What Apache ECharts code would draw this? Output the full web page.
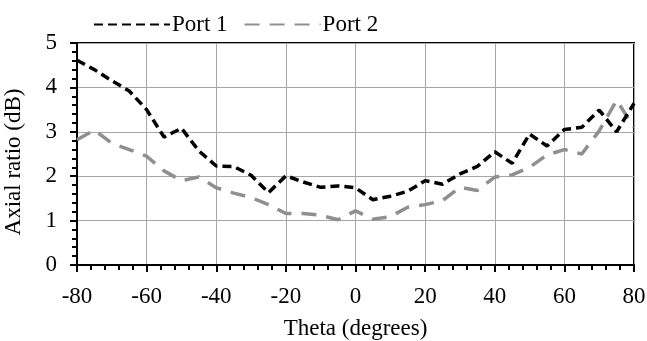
<!DOCTYPE html>
<html>
<head>
<meta charset="utf-8">
<script src="https://cdn.jsdelivr.net/npm/echarts@6/dist/echarts.min.js"></script>
<style>
  html, body { margin: 0; padding: 0; background: #fff; }
  #chart { width: 647px; height: 341px; }
</style>
</head>
<body>
<div id="chart"></div>
<script>
// theta in degrees, axial ratio in dB
var theta = [-80, -75, -70, -65, -60, -55, -50, -45, -40, -35, -30, -25, -20, -15, -10, -5, 0,
             5, 10, 15, 20, 25, 30, 35, 40, 45, 50, 55, 60, 65, 70, 75, 80];
var port1 = [4.61, 4.40, 4.15, 3.92, 3.50, 2.88, 3.08, 2.57, 2.23, 2.22, 2.02, 1.63, 2.01, 1.87, 1.75, 1.78, 1.74,
             1.47, 1.55, 1.66, 1.90, 1.82, 2.05, 2.22, 2.55, 2.29, 2.95, 2.68, 3.05, 3.10, 3.49, 3.00, 3.64];
var port2 = [2.82, 3.04, 2.74, 2.60, 2.45, 2.12, 1.90, 1.98, 1.74, 1.62, 1.52, 1.36, 1.16, 1.16, 1.12, 1.02, 1.22,
             1.03, 1.09, 1.30, 1.36, 1.45, 1.75, 1.68, 1.98, 2.03, 2.20, 2.48, 2.60, 2.50, 3.02, 3.71, 3.10];

function pairs(ys) {
    return theta.map(function(t, i) { return [t, ys[i]]; });
}

var font = 'Liberation Serif';
var myChart = echarts.init(document.getElementById('chart'));

var option = {
    animation: false,
    textStyle: { fontFamily: font },
    legend: {
        top: 8,
        left: 88,
        itemWidth: 76,
        itemHeight: 14,
        itemGap: 16,
        itemStyle: { opacity: 0 },
        textStyle: { fontFamily: font, fontSize: 23, color: '#000', padding: [0, 0, 0, -3] },
        data: ['Port 1', 'Port 2']
    },
    grid: {
        left: 77,
        right: 13,
        top: 43,
        bottom: 76,
        outerBoundsMode: 'none',
        show: true,
        borderColor: '#000',
        borderWidth: 2
    },
    xAxis: {
        type: 'value',
        min: -80,
        max: 80,
        interval: 20,
        name: 'Theta (degrees)',
        nameLocation: 'middle',
        nameGap: 52,
        nameTextStyle: { fontFamily: font, fontSize: 23, color: '#000' },
        axisLine: { onZero: false, lineStyle: { color: '#000', width: 2 } },
        axisTick: { show: true, length: 7, lineStyle: { color: '#000', width: 2 } },
        minorTick: { show: true, splitNumber: 5, length: 5, lineStyle: { color: '#000', width: 2 } },
        axisLabel: { fontFamily: font, fontSize: 23, color: '#000', margin: 20 },
        splitLine: { show: true, lineStyle: { color: '#a6a6a6', width: 1 } }
    },
    yAxis: {
        type: 'value',
        min: 0,
        max: 5,
        interval: 1,
        name: 'Axial ratio (dB)',
        nameLocation: 'middle',
        nameGap: 52,
        nameTextStyle: { fontFamily: font, fontSize: 23, color: '#000', padding: [0, 16, 0, 0] },
        axisLine: { show: true, onZero: false, lineStyle: { color: '#000', width: 2 } },
        axisTick: { show: true, length: 7, lineStyle: { color: '#000', width: 2 } },
        minorTick: { show: true, splitNumber: 5, length: 5, lineStyle: { color: '#000', width: 2 } },
        axisLabel: { fontFamily: font, fontSize: 23, color: '#000', margin: 20 },
        splitLine: { show: true, lineStyle: { color: '#a6a6a6', width: 1 } }
    },
    series: [
        {
            name: 'Port 1',
            type: 'line',
            showSymbol: false,
            symbol: 'none',
            data: pairs(port1),
            lineStyle: { color: '#000', width: 3.5, type: [9, 5] },
            itemStyle: { color: '#000' },
            z: 3
        },
        {
            name: 'Port 2',
            type: 'line',
            showSymbol: false,
            symbol: 'none',
            data: pairs(port2),
            lineStyle: { color: '#8f8f8f', width: 3.5, type: [15, 10] },
            itemStyle: { color: '#8f8f8f' },
            z: 2
        }
    ]
};

myChart.setOption(option);
</script>
</body>
</html>
